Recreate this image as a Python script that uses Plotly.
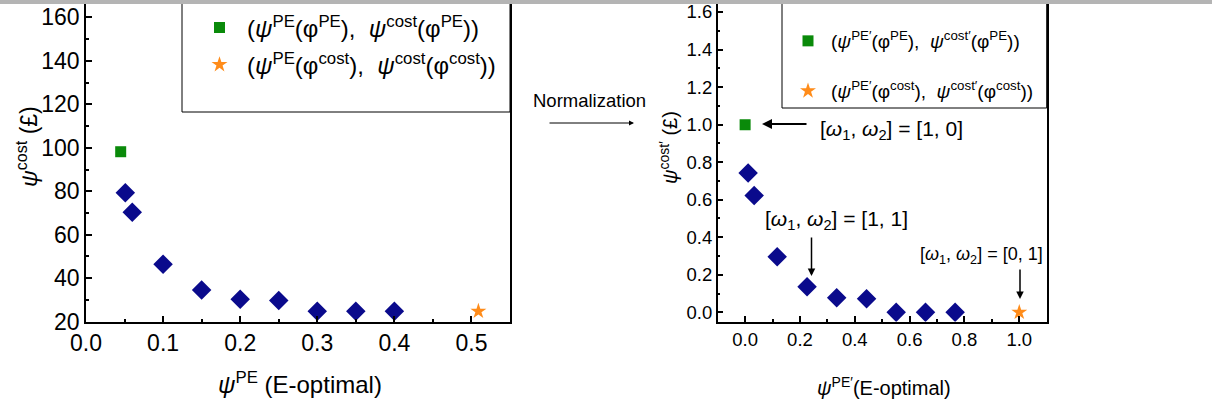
import plotly.graph_objects as go

# ---------------- data ----------------
# left panel (raw objectives)
pareto_pe = [0.051, 0.06, 0.10, 0.15, 0.20, 0.25, 0.30, 0.35, 0.40]
pareto_cost = [79.3, 70.4, 46.4, 34.6, 30.3, 29.8, 24.8, 24.8, 24.8]
opt_pe_x = [0.045]
opt_pe_y = [98.2]
opt_cost_x = [0.509]
opt_cost_y = [24.8]

# right panel (normalized objectives)
norm_pe = [0.011, 0.033, 0.117, 0.226, 0.334, 0.443, 0.551, 0.658, 0.766]
norm_cost = [0.742, 0.623, 0.296, 0.136, 0.078, 0.072, 0.0, 0.0, 0.0]
norm_opt_pe_x = [0.0]
norm_opt_pe_y = [1.0]
norm_opt_cost_x = [1.0]
norm_opt_cost_y = [0.0]

W, H = 1212, 410
FONT = "Liberation Sans, Arial, sans-serif"
NARROW = "Liberation Sans Narrow, Arial Narrow, Liberation Sans, Arial, sans-serif"
NAVY = "#0a0a8c"
GREEN = "#0a8a0a"
ORANGE = "#ff8c1a"

def px(x):
    return x / W

def py(y):
    return 1 - y / H

fig = go.Figure()

# left panel
fig.add_trace(go.Scatter(x=pareto_pe, y=pareto_cost, mode="markers", showlegend=False,
                         marker=dict(symbol="diamond", size=15, color=NAVY), xaxis="x", yaxis="y"))
fig.add_trace(go.Scatter(x=opt_pe_x, y=opt_pe_y, mode="markers", legend="legend",
                         name="(<i>ψ</i><sup>PE</sup>(φ<sup>PE</sup>),  <i>ψ</i><sup>cost</sup>(φ<sup>PE</sup>))",
                         marker=dict(symbol="square", size=11, color=GREEN), xaxis="x", yaxis="y"))
fig.add_trace(go.Scatter(x=opt_cost_x, y=opt_cost_y, mode="markers", legend="legend2",
                         name="(<i>ψ</i><sup>PE</sup>(φ<sup>cost</sup>),  <i>ψ</i><sup>cost</sup>(φ<sup>cost</sup>))",
                         marker=dict(symbol="star", size=12, color=ORANGE), xaxis="x", yaxis="y"))

# right panel
fig.add_trace(go.Scatter(x=norm_pe, y=norm_cost, mode="markers", showlegend=False,
                         marker=dict(symbol="diamond", size=15, color=NAVY), xaxis="x2", yaxis="y2"))
fig.add_trace(go.Scatter(x=norm_opt_pe_x, y=norm_opt_pe_y, mode="markers", legend="legend3",
                         name="(<i>ψ</i><sup>PE′</sup>(φ<sup>PE</sup>),  <i>ψ</i><sup>cost′</sup>(φ<sup>PE</sup>))",
                         marker=dict(symbol="square", size=11, color=GREEN), xaxis="x2", yaxis="y2"))
fig.add_trace(go.Scatter(x=norm_opt_cost_x, y=norm_opt_cost_y, mode="markers", legend="legend4",
                         name="(<i>ψ</i><sup>PE′</sup>(φ<sup>cost</sup>),  <i>ψ</i><sup>cost′</sup>(φ<sup>cost</sup>))",
                         marker=dict(symbol="star", size=12, color=ORANGE), xaxis="x2", yaxis="y2"))

axis_common = dict(showline=True, linecolor="black", linewidth=1.5, mirror=True,
                   ticks="inside", ticklen=6, tickcolor="black", tickwidth=1.5,
                   showgrid=False, zeroline=False, automargin=False)

def mkleg(x, y, fam, size, iw):
    return dict(x=px(x), y=py(y), xanchor="left", yanchor="middle", bgcolor="rgba(0,0,0,0)",
                borderwidth=0, font=dict(family=fam, size=size, color="black"),
                itemsizing="trace", itemwidth=iw)

fig.update_layout(
    width=W, height=H, margin=dict(l=0, r=0, t=0, b=0, pad=0, autoexpand=False),
    paper_bgcolor="white", plot_bgcolor="rgba(0,0,0,0)",
    font=dict(family=FONT, color="black"),
    xaxis=dict(domain=[px(86), px(510)], range=[0, 0.55], dtick=0.1, tick0=0, tickformat=".1f",
               minor=dict(dtick=0.05, ticks="inside", ticklen=3, tickcolor="black"),
               tickfont=dict(family=FONT, size=23), anchor="y", **axis_common),
    yaxis=dict(domain=[py(321.7), 1], range=[20, 168], dtick=20, tick0=0,
               minor=dict(dtick=10, ticks="inside", ticklen=3, tickcolor="black"),
               tickfont=dict(family=FONT, size=23), anchor="x", **axis_common),
    xaxis2=dict(domain=[px(717.7), px(1046.7)], range=[-0.1, 1.1], dtick=0.2, tick0=0, tickformat=".1f",
                minor=dict(dtick=0.1, ticks="inside", ticklen=3, tickcolor="black"),
                tickfont=dict(family=NARROW, size=18.5), anchor="y2", **axis_common),
    yaxis2=dict(domain=[py(321.7), 1], range=[-0.05, 1.664], dtick=0.2, tick0=0, tickformat=".1f",
                minor=dict(dtick=0.1, ticks="inside", ticklen=3, tickcolor="black"),
                tickfont=dict(family=NARROW, size=18.5), anchor="x2", **axis_common),
    legend=mkleg(192, 28, FONT, 24, 45),
    legend2=mkleg(192, 65, FONT, 24, 45),
    legend3=mkleg(785, 41, NARROW, 19, 36),
    legend4=mkleg(785, 91, NARROW, 19, 36),
)

shapes = [
    # legend boxes
    dict(type="rect", xref="paper", yref="paper", x0=px(182), x1=px(510), y0=py(112), y1=py(-5),
         line=dict(color="black", width=1), fillcolor="rgba(0,0,0,0)"),
    dict(type="rect", xref="paper", yref="paper", x0=px(782), x1=px(1046.7), y0=py(108), y1=py(-5),
         line=dict(color="black", width=1), fillcolor="rgba(0,0,0,0)"),
    # top grey strip of the cropped image
    dict(type="rect", xref="paper", yref="paper", x0=0, x1=1, y0=py(4), y1=1,
         line=dict(width=0), fillcolor="#b4b4b4", layer="above"),
]
fig.update_layout(shapes=shapes)


def label(x, y, text, fam, size, angle=0):
    return dict(x=px(x), y=py(y), xref="paper", yref="paper", showarrow=False,
                xanchor="center", yanchor="middle", textangle=angle,
                text=text, font=dict(family=fam, size=size, color="black"))


def arrow(hx, hy, tx, ty, width):
    return dict(x=px(hx), y=py(hy), ax=tx - hx, ay=ty - hy, xref="paper", yref="paper",
                axref="pixel", ayref="pixel", text="", showarrow=True, arrowhead=2,
                arrowsize=1, arrowwidth=width, arrowcolor="black")


ann = []
# axis titles
ann.append(label(300, 383, "<i>ψ</i><sup>PE</sup> (E-optimal)", FONT, 24))
ann.append(label(27, 147, "<i>ψ</i><sup>cost</sup> (£)", FONT, 23, -90))
ann.append(label(884, 386, "<i>ψ</i><sup>PE′</sup>(E-optimal)", NARROW, 20))
ann.append(label(668, 148, "<i>ψ</i><sup>cost′</sup> (£)", NARROW, 20, -90))
# normalization
ann.append(label(589, 100, "Normalization", NARROW, 18.5))
ann.append(arrow(634, 123, 548, 123, 1))
# weight labels
ann.append(label(891, 130, "[<i>ω</i><sub>1</sub>, <i>ω</i><sub>2</sub>] = [1, 0]", NARROW, 21))
ann.append(arrow(762, 124, 808, 124, 2))
ann.append(label(836, 220, "[<i>ω</i><sub>1</sub>, <i>ω</i><sub>2</sub>] = [1, 1]", NARROW, 21))
ann.append(arrow(811.5, 276, 811.5, 236, 1.5))
ann.append(label(981, 255, "[<i>ω</i><sub>1</sub>, <i>ω</i><sub>2</sub>] = [0, 1]", NARROW, 18))
ann.append(arrow(1020, 299, 1020, 268, 1.5))
fig.update_layout(annotations=ann)

fig.write_html("out.html", config={"displayModeBar": False},
               post_script="document.body.style.margin='0';document.body.style.padding='0';")
